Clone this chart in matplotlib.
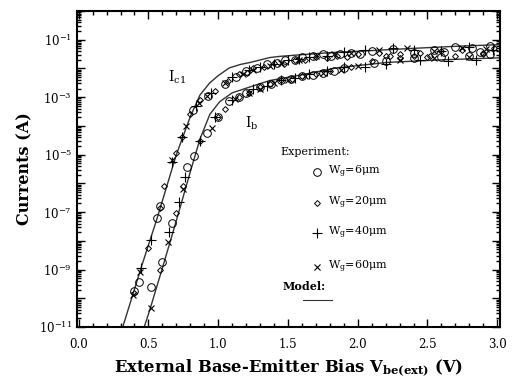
import numpy as np
import matplotlib
matplotlib.use("Agg")
import matplotlib.pyplot as plt
from matplotlib.ticker import MultipleLocator, LogLocator, FixedLocator, NullFormatter, FixedFormatter

plt.rcParams['font.family'] = ['DejaVu Serif']
plt.rcParams['mathtext.fontset'] = 'dejavuserif'

# ---------------- data (log10 of current in A) ----------------
# model curves
model_ic_v = [0.316, 0.45, 0.56, 0.70, 0.80, 0.87, 0.94, 1.00, 1.08, 1.16, 1.23, 1.37, 1.44, 1.60, 1.80, 2.09, 2.40, 2.70, 3.02]
model_ic_log = [-11.0, -8.9, -7.25, -5.0, -3.68, -2.92, -2.5, -2.25, -1.98, -1.86, -1.79, -1.62, -1.58, -1.52, -1.45, -1.38, -1.3, -1.23, -1.17]
model_ib_v = [0.47, 0.51, 0.60, 0.70, 0.80, 0.87, 0.94, 1.01, 1.10, 1.23, 1.37, 1.44, 1.60, 1.85, 2.21, 2.60, 3.02]
model_ib_log = [-11.0, -10.4, -8.95, -7.3, -5.6, -4.45, -3.6, -3.16, -2.85, -2.64, -2.42, -2.36, -2.22, -1.98, -1.79, -1.7, -1.63]

# experiment: W_g = 6 um (circles)
w6_ic_v = [0.40, 0.43, 0.56, 0.58, 0.82, 0.93, 1.05, 1.13, 1.20, 1.28, 1.35, 1.42, 1.48, 1.55, 1.60, 1.68, 1.75, 1.81, 1.87, 1.95, 2.02, 2.10, 2.25, 2.40, 2.55, 2.62, 2.70, 2.82, 2.88, 2.95]
w6_ic_log = [-9.75, -9.45, -7.2, -6.8, -3.45, -2.95, -2.55, -2.3, -2.1, -1.98, -1.85, -1.82, -1.7, -1.72, -1.6, -1.58, -1.5, -1.55, -1.5, -1.45, -1.5, -1.4, -1.33, -1.45, -1.35, -1.42, -1.27, -1.3, -1.42, -1.22]
w6_ib_v = [0.52, 0.60, 0.67, 0.78, 0.83, 0.92, 1.00, 1.08, 1.15, 1.20, 1.30, 1.38, 1.45, 1.52, 1.60, 1.68, 1.75, 1.83, 1.90, 2.12, 2.20, 2.40, 2.60, 2.80, 2.95]
w6_ib_log = [-9.6, -8.74, -7.38, -5.42, -5.04, -4.24, -3.7, -3.15, -3.0, -2.85, -2.65, -2.55, -2.4, -2.35, -2.25, -2.22, -2.15, -2.1, -2.0, -1.8, -1.75, -1.62, -1.6, -1.55, -1.5]

# W_g = 20 um (small diamonds)
w20_ic_v = [0.395, 0.50, 0.58, 0.61, 0.70, 0.74, 0.80, 0.87, 0.98, 1.07, 1.15, 1.21, 1.25, 1.33, 1.40, 1.47, 1.55, 1.62, 1.70, 1.78, 1.85, 1.92, 2.00, 2.15, 2.23, 2.30, 2.45, 2.52, 2.60, 2.75, 2.90, 2.98]
w20_ic_log = [-9.8, -8.25, -6.85, -6.1, -4.94, -4.4, -3.6, -3.1, -2.8, -2.45, -2.2, -2.15, -2.0, -1.95, -1.8, -1.85, -1.72, -1.7, -1.6, -1.65, -1.55, -1.6, -1.5, -1.45, -1.55, -1.5, -1.45, -1.55, -1.4, -1.35, -1.45, -1.3]
w20_ib_v = [0.58, 0.70, 0.75, 0.87, 1.00, 1.05, 1.15, 1.22, 1.30, 1.37, 1.45, 1.53, 1.60, 1.70, 1.80, 1.95, 2.10, 2.20, 2.30, 2.40, 2.50, 2.70, 2.90]
w20_ib_log = [-9.0, -7.03, -6.1, -4.52, -3.7, -3.4, -3.0, -2.85, -2.65, -2.55, -2.4, -2.35, -2.25, -2.2, -2.1, -1.95, -1.75, -1.55, -1.65, -1.58, -1.6, -1.55, -1.5]

# W_g = 40 um (plus)
w40_ic_v = [0.45, 0.52, 0.67, 0.74, 0.84, 0.95, 1.10, 1.22, 1.30, 1.40, 1.50, 1.58, 1.65, 1.78, 1.90, 2.05, 2.25, 2.40, 2.60, 2.80, 2.97]
w40_ic_log = [-8.95, -7.97, -5.25, -4.4, -3.3, -2.85, -2.3, -2.05, -1.95, -1.85, -1.7, -1.68, -1.6, -1.55, -1.42, -1.35, -1.3, -1.35, -1.4, -1.25, -1.35]
w40_ib_v = [0.65, 0.72, 0.76, 0.87, 0.98, 1.10, 1.25, 1.35, 1.45, 1.55, 1.65, 1.78, 1.90, 2.05, 2.20, 2.45, 2.65, 2.85]
w40_ib_log = [-7.7, -6.64, -5.77, -4.52, -3.7, -3.1, -2.7, -2.6, -2.4, -2.32, -2.2, -2.1, -1.95, -1.95, -1.85, -1.7, -1.75, -1.7]

# W_g = 60 um (cross)
w60_ic_v = [0.39, 0.44, 0.67, 0.77, 0.86, 0.92, 1.05, 1.18, 1.25, 1.37, 1.45, 1.58, 1.70, 1.83, 1.95, 2.15, 2.35, 2.55, 2.75, 2.92]
w60_ic_log = [-9.9, -9.1, -5.2, -4.0, -3.2, -2.95, -2.5, -2.2, -2.05, -1.9, -1.8, -1.7, -1.58, -1.5, -1.45, -1.35, -1.3, -1.4, -1.3, -1.32]
w60_ib_v = [0.52, 0.64, 0.75, 0.955, 1.12, 1.22, 1.30, 1.40, 1.50, 1.62, 1.75, 1.88, 2.00, 2.30, 2.55, 2.80]
w60_ib_log = [-10.35, -8.04, -6.2, -4.07, -3.05, -2.85, -2.7, -2.5, -2.4, -2.28, -2.15, -2.05, -1.9, -1.7, -1.62, -1.6]

legend_labels = [r'W$_{\mathrm{g}}$=6μm', r'W$_{\mathrm{g}}$=20μm', r'W$_{\mathrm{g}}$=40μm', r'W$_{\mathrm{g}}$=60μm']
y_tick_exps = [-11, -9, -7, -5, -3, -1]
x_ticks = [0.0, 0.5, 1.0, 1.5, 2.0, 2.5, 3.0]

# ---------------- figure ----------------
fig = plt.figure(figsize=(5.13, 3.81), dpi=100)
ax = fig.add_axes([77/513, 1-327/381, 423/513, 316/381])

p = lambda a: 10.0 ** np.asarray(a)

ax.plot(model_ic_v, p(model_ic_log), color='#333333', lw=1.0, zorder=2)
ax.plot(model_ib_v, p(model_ib_log), color='#333333', lw=1.0, zorder=2)

styles = [
    dict(marker='o', ms=5.5, mfc='none', mec='black', mew=0.7),
    dict(marker='D', ms=3.0, mfc='none', mec='black', mew=0.7),
    dict(marker='+', ms=6.5, mec='black', mew=0.8),
    dict(marker='x', ms=4.5, mec='black', mew=0.8),
]
series = [(w6_ic_v, w6_ic_log, w6_ib_v, w6_ib_log),
          (w20_ic_v, w20_ic_log, w20_ib_v, w20_ib_log),
          (w40_ic_v, w40_ic_log, w40_ib_v, w40_ib_log),
          (w60_ic_v, w60_ic_log, w60_ib_v, w60_ib_log)]
for (icv, icl, ibv, ibl), st in zip(series, styles):
    ax.plot(icv, p(icl), ls='none', zorder=3, **st)
    ax.plot(ibv, p(ibl), ls='none', zorder=3, **st)

ax.set_yscale('log')
ax.set_xlim(-0.012, 3.02)
ax.set_ylim(1e-11, 1e0)

ax.xaxis.set_major_locator(FixedLocator(x_ticks))
ax.xaxis.set_minor_locator(MultipleLocator(0.1))
ax.set_xticklabels([f'{t:.1f}' for t in x_ticks])

ax.yaxis.set_major_locator(FixedLocator([10.0 ** e for e in range(-11, 1)]))
ax.yaxis.set_major_formatter(FixedFormatter(
    [r'$10^{%d}$' % e if e in y_tick_exps else '' for e in range(-11, 1)]))
ax.yaxis.set_minor_locator(LogLocator(base=10, subs=np.arange(2, 10), numticks=20))
ax.yaxis.set_minor_formatter(NullFormatter())

ax.tick_params(which='both', direction='in', top=True, right=True, width=1.0, labelsize=8.5)
ax.tick_params(which='major', length=6)
ax.tick_params(which='minor', length=3)
ax.tick_params(axis='x', pad=8)
for s in ax.spines.values():
    s.set_linewidth(1.5)

ax.set_ylabel('Currents (A)', fontsize=11.5, fontweight='bold', labelpad=4)
ax.set_xlabel(r'External Base-Emitter Bias V$_{\mathbf{be(ext)}}$ (V)', fontsize=11.8,
              fontweight='bold', labelpad=5)

ax.text(0.64, 10 ** -2.45, r'I$_{\mathrm{c1}}$', fontsize=10)
ax.text(1.19, 10 ** -4.05, r'I$_{\mathrm{b}}$', fontsize=10)

# legend (manual)
tr = ax.transAxes
ax.text(0.48, 0.554, 'Experiment:', transform=tr, fontsize=8, va='center')
leg_y = [0.49, 0.392, 0.297, 0.19]
for yy, st, lab in zip(leg_y, styles, legend_labels):
    ax.plot([0.567], [yy], transform=tr, ls='none', clip_on=False, **st)
    ax.text(0.593, yy, lab, transform=tr, fontsize=8, va='center')
ax.text(0.487, 0.127, 'Model:', transform=tr, fontsize=8, fontweight='bold', va='center')
ax.plot([0.534, 0.603], [0.085, 0.085], transform=tr, color='#333333', lw=0.8)

fig.savefig('out.png', dpi=100)
